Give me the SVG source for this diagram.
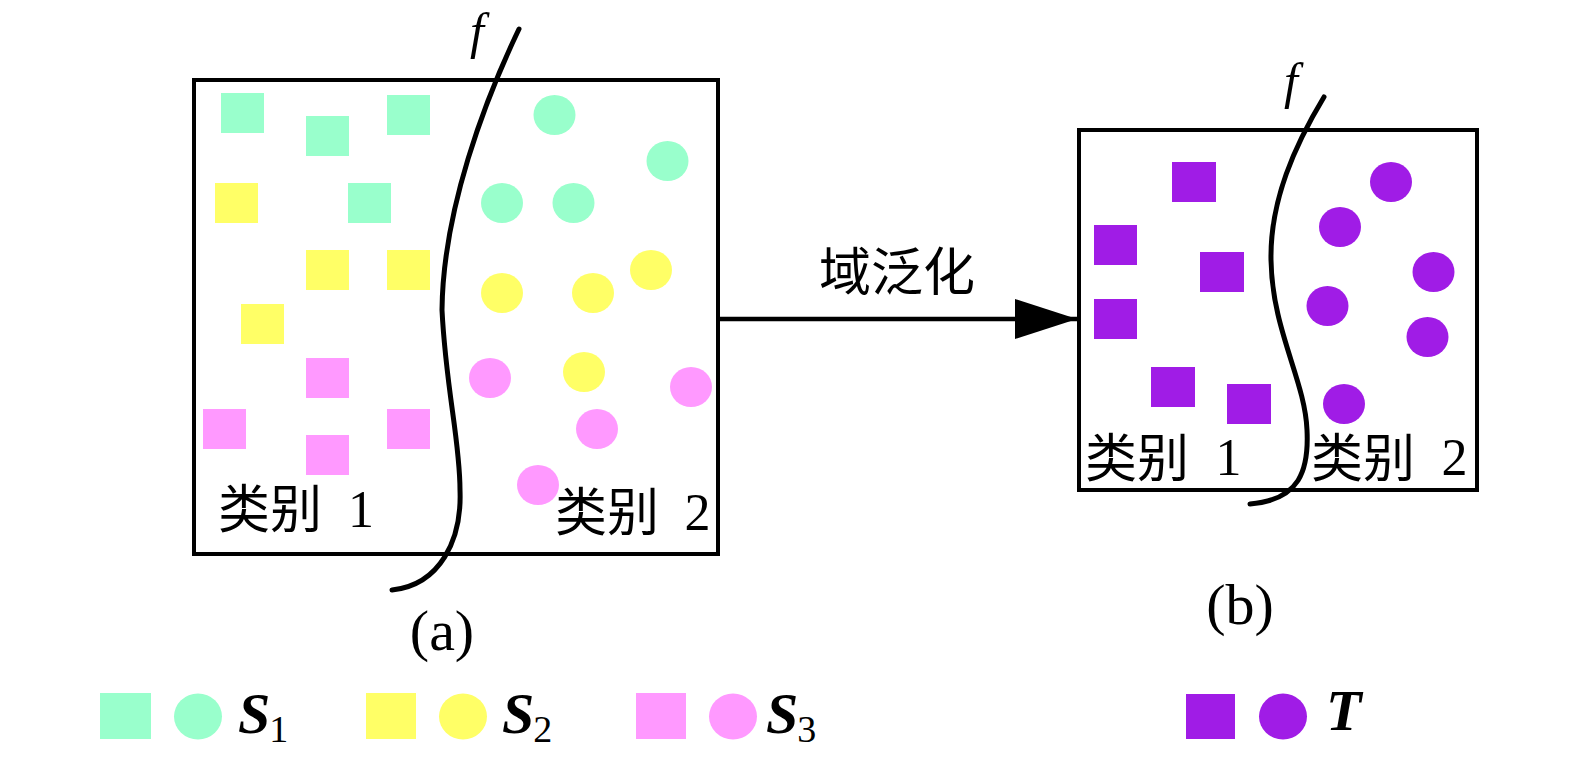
<svg xmlns="http://www.w3.org/2000/svg" width="1575" height="759" viewBox="0 0 1575 759">
<defs>
<style>
.teal{fill:#99FFCC}
.yel{fill:#FFFF66}
.pink{fill:#FF99FF}
.pur{fill:#A01CE6}
.box{fill:none;stroke:#000;stroke-width:4}
.curve{fill:none;stroke:#000;stroke-width:5;stroke-linecap:round}
.cjk{font-family:"Noto Sans CJK SC",sans-serif;font-size:52px;fill:#000}
.num{font-family:"Liberation Serif",serif;font-size:52px;fill:#000}
.cap{font-family:"Liberation Serif",serif;font-size:58px;fill:#000}
.mi{font-family:"Liberation Serif",serif;font-style:italic;font-size:50px;fill:#000}
.bi{font-family:"Liberation Serif",serif;font-style:italic;font-weight:bold;font-size:58px;fill:#000}
.sub{font-family:"Liberation Serif",serif;font-size:38px;fill:#000}
</style>
<marker id="ah" viewBox="0 0 62 40" refX="62" refY="20" markerWidth="62" markerHeight="40" markerUnits="userSpaceOnUse" orient="auto">
<path d="M0,0 L62,20 L0,40 z" fill="#000"/>
</marker>
</defs>
<rect width="1575" height="759" fill="#fff"/>

<g id="panel-a">
<g id="samples-a">
<rect class="teal" x="221" y="93" width="43" height="40"/>
<rect class="teal" x="306" y="116" width="43" height="40"/>
<rect class="teal" x="387" y="95" width="43" height="40"/>
<rect class="teal" x="348" y="183" width="43" height="40"/>
<rect class="yel" x="215" y="183" width="43" height="40"/>
<rect class="yel" x="306" y="250" width="43" height="40"/>
<rect class="yel" x="387" y="250" width="43" height="40"/>
<rect class="yel" x="241" y="304" width="43" height="40"/>
<rect class="pink" x="306" y="358" width="43" height="40"/>
<rect class="pink" x="203" y="409" width="43" height="40"/>
<rect class="pink" x="387" y="409" width="43" height="40"/>
<rect class="pink" x="306" y="435" width="43" height="40"/>
<ellipse class="teal" cx="554.5" cy="115" rx="21" ry="20"/>
<ellipse class="teal" cx="667.5" cy="161" rx="21" ry="20"/>
<ellipse class="teal" cx="502" cy="203" rx="21" ry="20"/>
<ellipse class="teal" cx="573.5" cy="203" rx="21" ry="20"/>
<ellipse class="yel" cx="502" cy="293" rx="21" ry="20"/>
<ellipse class="yel" cx="593" cy="293" rx="21" ry="20"/>
<ellipse class="yel" cx="651" cy="270" rx="21" ry="20"/>
<ellipse class="yel" cx="584" cy="372" rx="21" ry="20"/>
<ellipse class="pink" cx="490" cy="378" rx="21" ry="20"/>
<ellipse class="pink" cx="691" cy="387" rx="21" ry="20"/>
<ellipse class="pink" cx="597" cy="429" rx="21" ry="20"/>
<ellipse class="pink" cx="538" cy="485" rx="21" ry="20"/>
</g>
<rect class="box" x="194" y="80" width="524" height="474"/>
<path class="curve" d="M519,29 C485,100 443,210 442,310 C446,390 460,440 460,490 C462,540 440,585 392,590"/>
<text class="mi" x="470" y="48">f</text>
<text class="cjk" x="218" y="528">类别</text>
<text class="num" x="361" y="527" text-anchor="middle">1</text>
<text class="cjk" x="555" y="531">类别</text>
<text class="num" x="697.5" y="530" text-anchor="middle">2</text>
<text class="cap" x="442" y="650" text-anchor="middle">(a)</text>
</g>

<g id="panel-b">
<g id="samples-b">
<rect class="pur" x="1172" y="162" width="44" height="40"/>
<rect class="pur" x="1094" y="225" width="43" height="40"/>
<rect class="pur" x="1200" y="252" width="44" height="40"/>
<rect class="pur" x="1094" y="299" width="43" height="40"/>
<rect class="pur" x="1151" y="367" width="44" height="40"/>
<rect class="pur" x="1227" y="384" width="44" height="40"/>
<ellipse class="pur" cx="1391" cy="182" rx="21" ry="20"/>
<ellipse class="pur" cx="1340" cy="227" rx="21" ry="20"/>
<ellipse class="pur" cx="1433.5" cy="272" rx="21" ry="20"/>
<ellipse class="pur" cx="1327.5" cy="306" rx="21" ry="20"/>
<ellipse class="pur" cx="1427.5" cy="337" rx="21" ry="20"/>
<ellipse class="pur" cx="1344" cy="404" rx="21" ry="20"/>
</g>
<rect class="box" x="1079" y="130" width="398" height="360"/>
<path class="curve" d="M1324,97 C1295,145 1270,200 1271,260 C1272,330 1305,380 1307,430 C1309,470 1300,500 1250,504"/>
<text class="mi" x="1284" y="98">f</text>
<text class="cjk" x="1085" y="477">类别</text>
<text class="num" x="1228.5" y="475" text-anchor="middle">1</text>
<text class="cjk" x="1311" y="477">类别</text>
<text class="num" x="1454.5" y="475" text-anchor="middle">2</text>
<text class="cap" x="1240" y="624" text-anchor="middle">(b)</text>
</g>

<g id="connectors">
<line x1="718" y1="319" x2="1077" y2="319" stroke="#000" stroke-width="4.5" marker-end="url(#ah)"/>
<text class="cjk" x="897" y="291" text-anchor="middle">域泛化</text>
</g>

<g id="legend">
<g id="legend-s1">
<rect class="teal" x="100" y="693" width="51" height="46"/>
<ellipse class="teal" cx="198" cy="716.5" rx="24" ry="23"/>
<text x="238" y="733"><tspan class="bi">S</tspan><tspan class="sub" dx="-1" dy="9">1</tspan></text>
</g>
<g id="legend-s2">
<rect class="yel" x="366" y="693" width="50" height="46"/>
<ellipse class="yel" cx="463" cy="716.5" rx="24" ry="23"/>
<text x="502" y="733"><tspan class="bi">S</tspan><tspan class="sub" dx="-1" dy="9">2</tspan></text>
</g>
<g id="legend-s3">
<rect class="pink" x="636" y="693" width="50" height="46"/>
<ellipse class="pink" cx="733" cy="716.5" rx="24" ry="23"/>
<text x="766" y="733"><tspan class="bi">S</tspan><tspan class="sub" dx="-1" dy="9">3</tspan></text>
</g>
<g id="legend-t">
<rect class="pur" x="1186" y="694" width="49" height="45"/>
<ellipse class="pur" cx="1283" cy="716.5" rx="24" ry="23"/>
<text class="bi" x="1326" y="730">T</text>
</g>
</g>
</svg>
